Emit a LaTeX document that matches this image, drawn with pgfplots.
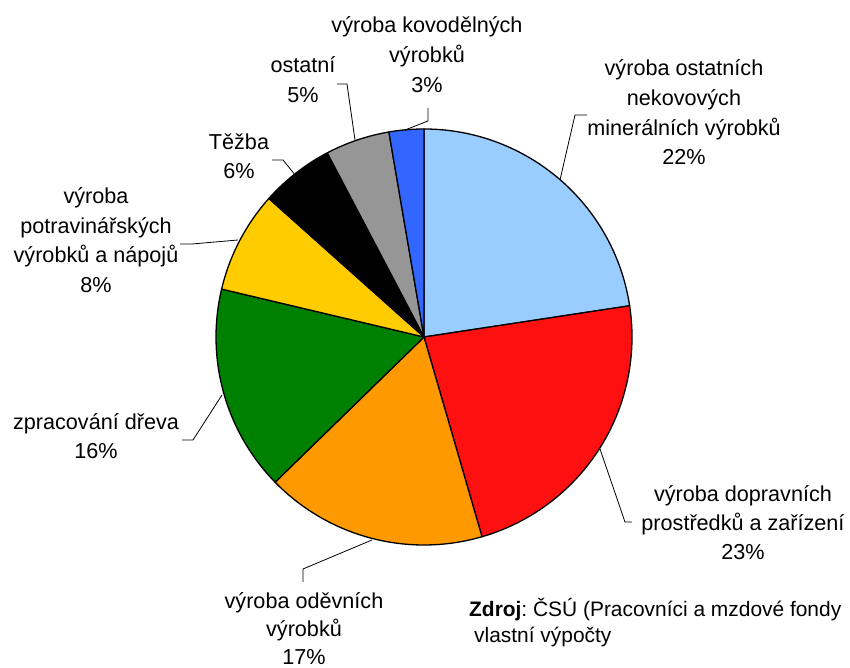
\documentclass[border=0pt]{standalone}
\usepackage{pgfplots}
\pgfplotsset{compat=1.18}
\usepackage{fontspec}
\setmainfont{Liberation Sans}
\frenchspacing
\definecolor{lblue}{RGB}{153,204,255}
\definecolor{pred}{RGB}{255,16,16}
\definecolor{porange}{RGB}{255,153,0}
\definecolor{pgreen}{RGB}{0,128,0}
\definecolor{pyellow}{RGB}{255,204,0}
\definecolor{pgray}{RGB}{150,150,150}
\definecolor{pblue}{RGB}{51,102,255}
\newcommand\lf{\fontsize{21.7}{29}\selectfont}
% one label line per node, baselines in image pixels (y down)
\newcommand\lbl[4]{\foreach \t [count=\i from 0] in {#4}
  \node[anchor=base, inner sep=0pt, font=\lf] at (#1,{#2+#3*\i}) {\t};}

\begin{document}
\begin{tikzpicture}
\useasboundingbox (0,0) rectangle (850bp,668bp);
% shares in percent, clockwise from 12 o'clock
\pgfmathsetmacro\aA{90}
\pgfmathsetmacro\aB{\aA-3.6*22.6}
\pgfmathsetmacro\aC{\aB-3.6*22.9}
\pgfmathsetmacro\aD{\aC-3.6*17.2}
\pgfmathsetmacro\aE{\aD-3.6*16.0}
\pgfmathsetmacro\aF{\aE-3.6*7.9}
\pgfmathsetmacro\aG{\aF-3.6*5.7}
\pgfmathsetmacro\aH{\aG-3.6*5.0}
\pgfmathsetmacro\aI{\aH-3.6*2.7}
\begin{axis}[
  at={(216bp,123bp)}, anchor=south west,
  scale only axis, width=416bp, height=416bp,
  xmin=-1, xmax=1, ymin=-1, ymax=1,
  hide axis, clip=false,
  every axis plot/.append style={draw=black, line width=1.3bp, line join=round, samples=90},
]
\addplot[fill=lblue,   domain=\aB:\aA] ({cos(x)},{sin(x)}) -- (axis cs:0,0) -- cycle;
\addplot[fill=pred,    domain=\aC:\aB] ({cos(x)},{sin(x)}) -- (axis cs:0,0) -- cycle;
\addplot[fill=porange, domain=\aD:\aC] ({cos(x)},{sin(x)}) -- (axis cs:0,0) -- cycle;
\addplot[fill=pgreen,  domain=\aE:\aD] ({cos(x)},{sin(x)}) -- (axis cs:0,0) -- cycle;
\addplot[fill=pyellow, domain=\aF:\aE] ({cos(x)},{sin(x)}) -- (axis cs:0,0) -- cycle;
\addplot[fill=black,   domain=\aG:\aF] ({cos(x)},{sin(x)}) -- (axis cs:0,0) -- cycle;
\addplot[fill=pgray,   domain=\aH:\aG] ({cos(x)},{sin(x)}) -- (axis cs:0,0) -- cycle;
\addplot[fill=pblue,   domain=\aI:\aH] ({cos(x)},{sin(x)}) -- (axis cs:0,0) -- cycle;
\end{axis}

\begin{scope}[x=1bp, y=-1bp, yshift=668bp]
% leader lines
\draw[line width=0.8bp] (560,180) -- (575,115) -- (587,115);
\draw[line width=0.8bp] (600,449) -- (625,522) -- (632,522);
\draw[line width=0.8bp] (372,540) -- (303,569) -- (303,582);
\draw[line width=0.8bp] (222,395) -- (193,440) -- (182,440);
\draw[line width=0.8bp] (238,240) -- (192,244) -- (180,244);
\draw[line width=0.8bp] (296,176) -- (283,160) -- (272,160);
\draw[line width=0.8bp] (355,140) -- (347,84) -- (337,84);
\draw[line width=0.8bp] (405,130) -- (428,121) -- (428,108);
% labels
\lbl{684}{76}{29.6}{výroba ostatních,nekovových,minerálních výrobků,22\%}
\lbl{743}{502}{29}{výroba dopravních,prostředků a zařízení,23\%}
\lbl{304}{609}{28}{výroba oděvních,výrobků,17\%}
\lbl{96}{430}{29}{zpracování dřeva,16\%}
\lbl{96}{204}{29.5}{výroba,potravinářských,výrobků a nápojů,8\%}
\lbl{239}{150}{29}{Těžba,6\%}
\lbl{303}{73}{30}{ostatní,5\%}
\lbl{427}{33}{30}{výroba kovodělných,výrobků,3\%}
\node[anchor=base west, inner sep=0pt, font=\fontsize{21}{26}\selectfont] at (469,617)
  {\textbf{Zdroj}: ČSÚ (Pracovníci a mzdové fondy};
\node[anchor=base west, inner sep=0pt, font=\fontsize{21}{26}\selectfont] at (474,643)
  {vlastní výpočty};
\end{scope}
\end{tikzpicture}
\end{document}
